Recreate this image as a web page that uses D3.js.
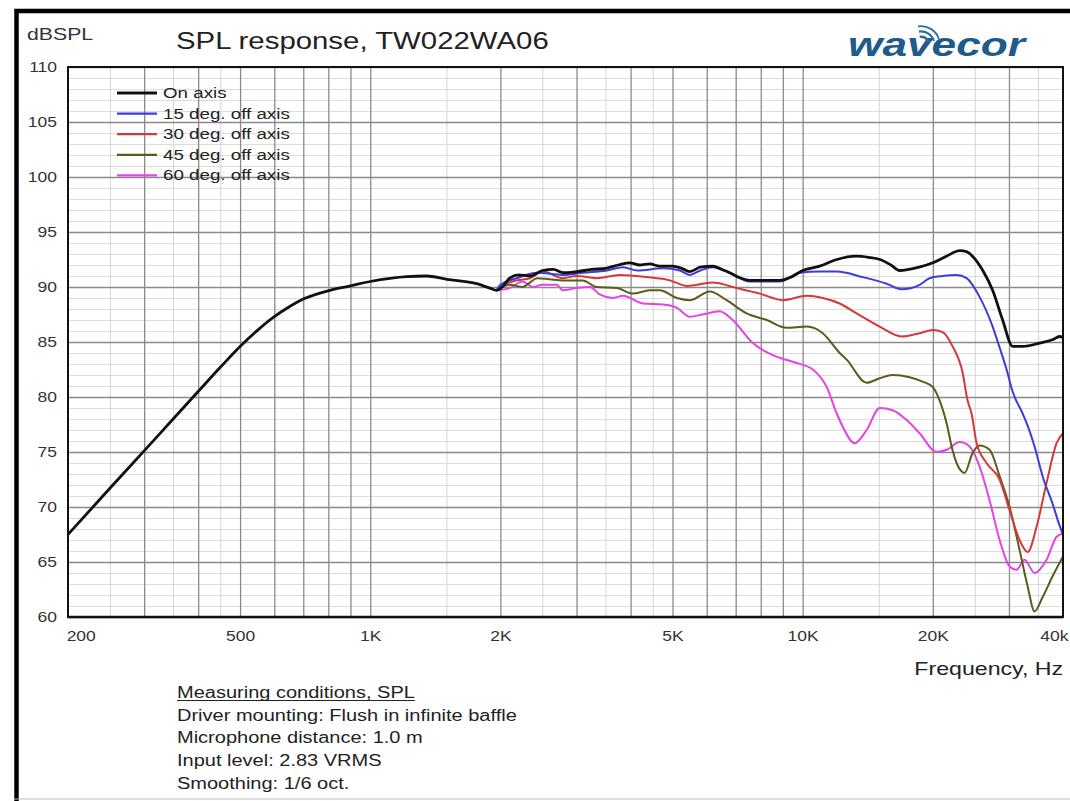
<!DOCTYPE html>
<html>
<head>
<meta charset="utf-8">
<script src="https://cdn.jsdelivr.net/npm/d3@7"></script>
<style>
  body { margin: 0; background: #fff; }
  text { font-family: "Liberation Sans", Arial, sans-serif; }
</style>
</head>
<body>
<svg id="chart" width="1070" height="801"></svg>
<script>
// series, [Hz, dBSPL]
const onAxis = [[200,67.5],[250,71.7],[300,75.1],[350,78.0],[400,80.5],[450,82.7],[500,84.6],[550,86.1],[600,87.3],[650,88.2],[700,88.9],[807,89.7],[900,90.1],[1000,90.5],[1215,90.95],[1350,91.0],[1503,90.7],[1764,90.3],[1890,89.9],[1960,89.7],[2020,90.0],[2100,90.8],[2200,91.1],[2350,91.0],[2500,91.5],[2650,91.6],[2790,91.3],[3000,91.4],[3250,91.6],[3500,91.7],[3750,92.0],[3980,92.2],[4200,92.0],[4430,92.1],[4670,91.9],[5000,91.9],[5250,91.7],[5480,91.4],[5800,91.8],[6200,91.9],[6500,91.6],[6780,91.3],[7100,90.9],[7540,90.6],[8200,90.6],[8850,90.6],[9400,90.9],[10000,91.5],[10950,91.9],[12000,92.5],[13300,92.8],[14200,92.7],[15100,92.5],[16000,92.0],[16760,91.5],[17600,91.6],[18600,91.8],[20000,92.2],[21500,92.8],[23100,93.3],[24000,93.2],[24700,92.8],[26100,91.5],[27500,89.7],[29000,87.0],[30600,84.6],[32300,84.6],[35300,84.9],[37800,85.2],[39300,85.5],[40000,85.4]];
const off15 = [[1960,89.7],[2000,90.2],[2180,90.8],[2430,91.3],[2790,91.1],[3100,91.3],[3520,91.5],[3840,91.8],[4150,91.5],[4750,91.7],[5200,91.5],[5480,91.1],[5800,91.5],[6190,91.8],[6780,91.3],[7540,90.5],[8850,90.5],[9845,91.3],[10950,91.4],[12000,91.4],[13770,90.9],[15640,90.3],[16940,89.8],[18640,90.2],[19660,90.8],[21070,91.0],[22700,91.1],[23940,90.8],[25650,89.1],[27500,86.4],[28540,84.5],[29620,82.5],[30580,80.5],[32260,78.5],[33130,77.4],[34380,75.5],[35880,72.8],[37840,70.3],[39290,68.3],[40000,67.5]];
const off30 = [[1960,89.7],[2000,90.0],[2180,90.6],[2340,90.8],[2510,91.4],[2790,90.8],[3000,91.0],[3340,90.8],[3780,91.1],[4360,90.9],[4930,90.6],[5400,90.1],[6190,90.4],[7040,89.9],[7960,89.4],[8990,88.8],[10220,89.2],[11130,89.0],[12180,88.5],[13330,87.6],[15070,86.4],[16940,85.5],[18640,85.8],[20000,86.1],[21070,85.9],[22220,84.6],[23440,82.2],[24060,79.7],[24580,78.5],[25250,75.8],[26620,74.0],[28540,72.5],[30100,69.7],[31740,67.0],[33130,65.9],[34750,68.2],[36650,72.2],[38660,75.8],[40000,76.7]];
const off45 = [[1960,89.7],[2100,90.2],[2250,90.0],[2340,90.4],[2430,90.8],[2600,90.7],[2790,90.6],[3100,90.6],[3340,90.0],[3720,89.9],[4050,89.4],[4430,89.7],[4670,89.7],[5120,89.0],[5480,88.8],[6100,89.6],[6670,88.8],[7420,87.6],[8260,87.0],[9180,86.3],[10220,86.4],[11130,85.8],[12180,84.0],[12640,83.4],[14060,81.3],[15070,81.7],[16150,82.0],[17680,81.8],[18940,81.4],[20000,80.9],[20730,79.7],[21530,77.6],[22200,75.2],[22700,74.0],[23690,73.1],[24710,74.9],[25650,75.6],[27060,75.2],[28540,72.8],[30100,70.0],[31740,66.1],[33130,62.8],[34380,60.5],[35880,61.8],[37840,63.7],[40000,65.5]];
const off60 = [[1960,89.7],[2100,89.9],[2250,90.5],[2380,90.0],[2500,90.2],[2700,90.2],[2790,89.7],[3000,89.9],[3220,90.0],[3400,89.3],[3640,89.0],[3840,89.2],[4270,88.5],[4750,88.4],[5120,88.1],[5480,87.3],[5870,87.5],[6430,87.8],[6890,87.0],[7670,84.9],[8530,83.8],[9480,83.2],[10550,82.5],[11370,80.9],[11990,78.5],[12380,77.3],[13190,75.8],[14060,77.0],[15070,79.0],[16150,78.8],[17400,77.9],[18640,76.7],[20410,75.0],[21530,75.2],[23070,75.9],[24320,75.5],[25650,73.7],[27060,70.6],[28540,67.0],[30100,64.6],[31240,64.3],[32600,65.2],[34380,64.0],[36650,65.2],[38660,67.3],[40000,67.6]];

const seriesNames = ["On axis", "15 deg. off axis", "30 deg. off axis", "45 deg. off axis", "60 deg. off axis"];
const seriesColors = ["#111111", "#3c3cdc", "#d43838", "#5b5b1c", "#e444e4"];
const yTicks = [60, 65, 70, 75, 80, 85, 90, 95, 100, 105, 110];
const xTickValues = [200, 500, 1000, 2000, 5000, 10000, 20000, 40000];
const xTickLabels = ["200", "500", "1K", "2K", "5K", "10K", "20K", "40k"];
const conditions = ["Measuring conditions, SPL", "Driver mounting: Flush in infinite baffle",
  "Microphone distance: 1.0 m", "Input level: 2.83 VRMS", "Smoothing: 1/6 oct."];

const sx = 1.25; // the source picture is stretched sideways
const pLeft = 68, pRight = 1063, pTop = 67, pBottom = 617;

const svg = d3.select("#chart");
svg.append("rect").attr("width", 1070).attr("height", 801).attr("fill", "#fff");

const x = d3.scaleLog().domain([200, 40000]).range([pLeft, pRight]);
const y = d3.scaleLinear().domain([60, 110]).range([pBottom, pTop]);

function txt(px, py, str, size, anchor, fill) {
  return svg.append("text")
    .attr("transform", `translate(${px},${py}) scale(${sx},1)`)
    .attr("text-anchor", anchor || "start")
    .style("font-size", size + "px")
    .attr("fill", fill || "#222")
    .text(str);
}

// grid
const minorX = [], majorX = [];
[100, 1000, 10000].forEach(dec => {
  [1.5, 2.5, 3.5, 4.5].forEach(m => { const v = m * dec; if (v > 200 && v < 40000) minorX.push(v); });
  d3.range(1, 10).forEach(m => { const v = m * dec; if (v > 200 && v < 40000) majorX.push(v); });
});
const grid = svg.append("g");
grid.append("g").attr("transform", `translate(${pLeft},0)`)
  .call(d3.axisLeft(y).tickValues(d3.range(61, 110)).tickSize(-(pRight - pLeft)).tickFormat(""))
  .call(g => g.select(".domain").remove())
  .call(g => g.selectAll("line").attr("stroke", "#dcdcdc").attr("stroke-width", 1));
grid.append("g").attr("transform", `translate(0,${pBottom})`)
  .call(d3.axisBottom(x).tickValues(minorX).tickSize(-(pBottom - pTop)).tickFormat(""))
  .call(g => g.select(".domain").remove())
  .call(g => g.selectAll("line").attr("stroke", "#d4d4d4").attr("stroke-width", 1));
grid.append("g").attr("transform", `translate(${pLeft},0)`)
  .call(d3.axisLeft(y).tickValues(yTicks).tickSize(-(pRight - pLeft)).tickFormat(""))
  .call(g => g.select(".domain").remove())
  .call(g => g.selectAll("line").attr("stroke", "#8a8a8a").attr("stroke-width", 1.4));
grid.append("g").attr("transform", `translate(0,${pBottom})`)
  .call(d3.axisBottom(x).tickValues(majorX).tickSize(-(pBottom - pTop)).tickFormat(""))
  .call(g => g.select(".domain").remove())
  .call(g => g.selectAll("line").attr("stroke", "#8a8a8a").attr("stroke-width", 1.3));

// curves
svg.append("clipPath").attr("id", "plotclip").append("rect")
  .attr("x", pLeft).attr("y", pTop).attr("width", pRight - pLeft).attr("height", pBottom - pTop);
const line = d3.line().x(d => x(d[0])).y(d => y(d[1])).curve(d3.curveMonotoneX);
const allSeries = [onAxis, off15, off30, off45, off60];
const curves = svg.append("g").attr("clip-path", "url(#plotclip)");
[4, 3, 2, 1, 0].forEach(i => {
  curves.append("path").datum(allSeries[i])
    .attr("d", line).attr("fill", "none")
    .attr("stroke", seriesColors[i])
    .attr("stroke-width", i === 0 ? 2.8 : 2)
    .attr("stroke-linejoin", "round");
});

// plot border
svg.append("rect").attr("x", pLeft).attr("y", pTop).attr("width", pRight - pLeft).attr("height", pBottom - pTop)
  .attr("fill", "none").attr("stroke", "#111").attr("stroke-width", 2);
svg.append("line").attr("x1", pLeft).attr("x2", pRight).attr("y1", pBottom).attr("y2", pBottom)
  .attr("stroke", "#111").attr("stroke-width", 2.6);

// y labels
const yAxis = svg.append("g").attr("transform", `translate(${pLeft},0)`)
  .call(d3.axisLeft(y).tickValues(yTicks).tickSize(0).tickPadding(8.8));
yAxis.select(".domain").remove();
yAxis.selectAll("text")
  .attr("transform", `scale(${sx},1)`)
  .attr("dy", "0.3em")
  .style("font-size", "14px").style("font-family", "'Liberation Sans', Arial, sans-serif")
  .attr("fill", "#333");

// x labels
const xAxis = svg.append("g").attr("transform", `translate(0,${pBottom})`)
  .call(d3.axisBottom(x).tickValues(xTickValues).tickSize(0).tickPadding(14)
    .tickFormat((d, i) => xTickLabels[i]));
xAxis.select(".domain").remove();
xAxis.selectAll("text")
  .attr("transform", `scale(${sx},1)`)
  .style("font-size", "14px").style("font-family", "'Liberation Sans', Arial, sans-serif")
  .attr("fill", "#333");
xAxis.selectAll("text").filter((d, i) => i === 0).attr("text-anchor", "start").attr("x", -1.5);
xAxis.selectAll("text").filter((d, i) => i === xTickValues.length - 1).attr("text-anchor", "end").attr("x", 4);

// legend
seriesNames.forEach((name, i) => {
  const ly = 93 + i * 20.6;
  svg.append("line").attr("x1", 117).attr("x2", 157).attr("y1", ly).attr("y2", ly)
    .attr("stroke", seriesColors[i]).attr("stroke-width", i === 0 ? 2.8 : 2.2);
  txt(163, ly + 5, name, 15, "start", "#222");
});

// titles
txt(27, 40, "dBSPL", 17, "start", "#333");
txt(176, 49, "SPL response, TW022WA06", 23.5, "start", "#222");
txt(1063, 675, "Frequency, Hz", 18.5, "end", "#222");

// measuring conditions
conditions.forEach((c, i) => {
  const t = txt(177, 698 + i * 22.7, c, 16, "start", "#222");
  if (i === 0) {
    const w = t.node().getComputedTextLength() * sx;
    svg.append("line").attr("x1", 177).attr("x2", 177 + w).attr("y1", 700.5).attr("y2", 700.5)
      .attr("stroke", "#222").attr("stroke-width", 1);
  }
});

// logo
svg.append("text").attr("x", 848).attr("y", 56)
  .attr("textLength", 177).attr("lengthAdjust", "spacingAndGlyphs")
  .style("font-size", "33px").style("font-weight", "bold").style("font-style", "italic")
  .attr("fill", "#1e5b8a").text("wavecor");
const wave = d3.arc().startAngle(-0.05 * Math.PI).endAngle(0.4 * Math.PI);
[7, 12.5, 18].forEach((r, i) => {
  svg.append("path").attr("transform", "translate(921,45)")
    .attr("d", wave({ innerRadius: r, outerRadius: r + 2.6 - i * 0.4 }))
    .attr("fill", "#2c6f9e");
});

// picture frame
svg.append("path").attr("d", "M16.5,801 V11 H1070").attr("fill", "none")
  .attr("stroke", "#000").attr("stroke-width", 4.5);
svg.append("line").attr("x1", 14).attr("x2", 1070).attr("y1", 799).attr("y2", 799)
  .attr("stroke", "#bbb").attr("stroke-width", 1);
</script>
</body>
</html>
